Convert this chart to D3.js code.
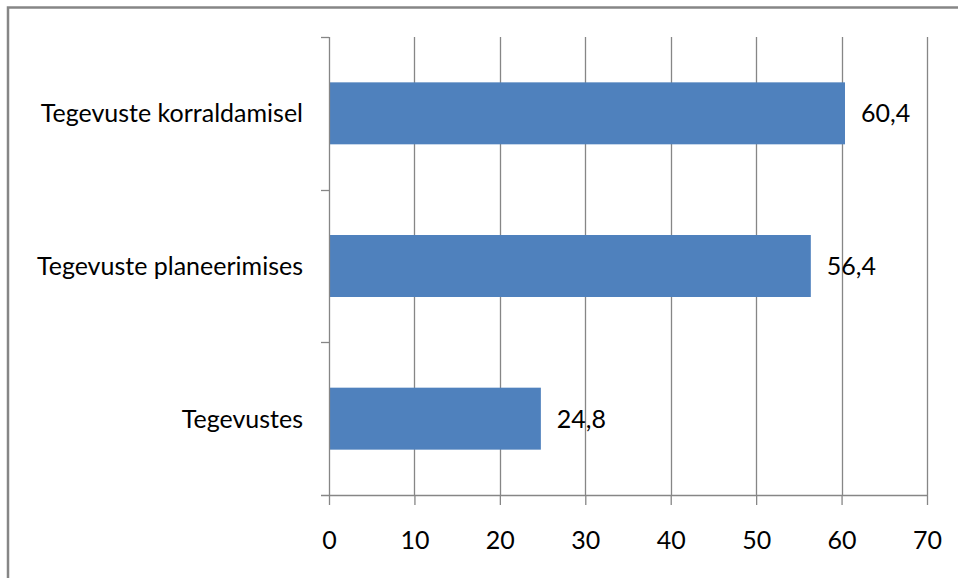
<!DOCTYPE html>
<html>
<head>
<meta charset="utf-8">
<script src="https://cdn.jsdelivr.net/npm/d3@7"></script>
<style>
  html, body { margin: 0; padding: 0; background: #fff; }
  svg { display: block; }
  text { font-family: Lato, "Open Sans", sans-serif; fill: #000; }
</style>
</head>
<body>
<svg id="chart" width="958" height="578"></svg>
<script>
// Categories, top to bottom, and their values
const categories = ["Tegevuste korraldamisel", "Tegevuste planeerimises", "Tegevustes"];
const values = [60.4, 56.4, 24.8];
const valueLabels = ["60,4", "56,4", "24,8"];
const xTicks = [0, 10, 20, 30, 40, 50, 60, 70];

const W = 958, H = 578;
const plot = { left: 329, right: 927, top: 37, bottom: 495 };
const gridColor = "#868686";
const barColor = "#4F81BD";
const fontSize = 25;

const svg = d3.select("#chart");

// Outer frame of the chart area
svg.append("rect")
  .attr("x", 8).attr("y", 7.5)
  .attr("width", W + 10).attr("height", H + 10)
  .attr("fill", "none")
  .attr("stroke", gridColor)
  .attr("stroke-width", 2.5);

const x = d3.scaleLinear().domain([0, 70]).range([plot.left, plot.right]);
const y = d3.scaleBand().domain(categories).range([plot.top, plot.bottom])
  .paddingInner(0.594).paddingOuter(0.297);

// Vertical gridlines
svg.append("g")
  .selectAll("line")
  .data(xTicks.slice(1))
  .join("line")
  .attr("x1", d => Math.round(x(d)) + 0.5)
  .attr("x2", d => Math.round(x(d)) + 0.5)
  .attr("y1", plot.top)
  .attr("y2", plot.bottom)
  .attr("stroke", gridColor)
  .attr("stroke-width", 1.3);

// Bars
svg.append("g")
  .selectAll("rect")
  .data(categories)
  .join("rect")
  .attr("x", x(0))
  .attr("y", d => y(d))
  .attr("width", (d, i) => x(values[i]) - x(0))
  .attr("height", y.bandwidth())
  .attr("fill", barColor);

// X axis
const xAxis = svg.append("g")
  .attr("transform", `translate(0,${plot.bottom})`)
  .call(d3.axisBottom(x).tickValues(xTicks).tickSize(10).tickPadding(26).tickSizeOuter(0));
xAxis.select(".domain").remove();
xAxis.append("line")
  .attr("x1", plot.left - 8).attr("x2", plot.right + 0.5)
  .attr("y1", 0.5).attr("y2", 0.5)
  .attr("stroke", gridColor).attr("stroke-width", 1.3);
xAxis.selectAll(".tick line").attr("stroke", gridColor).attr("stroke-width", 1.3);
xAxis.selectAll(".tick text")
  .attr("font-size", fontSize)
  .attr("font-family", "Lato, 'Open Sans', sans-serif")
  .attr("fill", "#000");

// Y axis: line and ticks at band boundaries
const yAxis = svg.append("g");
yAxis.append("line")
  .attr("x1", plot.left + 0.5).attr("x2", plot.left + 0.5)
  .attr("y1", plot.top).attr("y2", plot.bottom)
  .attr("stroke", gridColor).attr("stroke-width", 1.3);
const boundaries = categories.map(c => y(c) - y.step() * y.paddingInner() / 2);
yAxis.selectAll("line.tick")
  .data(boundaries)
  .join("line")
  .attr("class", "tick")
  .attr("x1", plot.left - 8).attr("x2", plot.left)
  .attr("y1", d => Math.round(d) + 0.5).attr("y2", d => Math.round(d) + 0.5)
  .attr("stroke", gridColor).attr("stroke-width", 1.3);

// Category labels
svg.append("g")
  .selectAll("text")
  .data(categories)
  .join("text")
  .attr("x", plot.left - 26)
  .attr("y", d => y(d) + y.bandwidth() / 2 + 9)
  .attr("text-anchor", "end")
  .attr("font-size", fontSize)
  .text(d => d);

// Value labels
svg.append("g")
  .selectAll("text")
  .data(categories)
  .join("text")
  .attr("x", (d, i) => x(values[i]) + 16)
  .attr("y", d => y(d) + y.bandwidth() / 2 + 9)
  .attr("font-size", fontSize)
  .text((d, i) => valueLabels[i]);
</script>
</body>
</html>
